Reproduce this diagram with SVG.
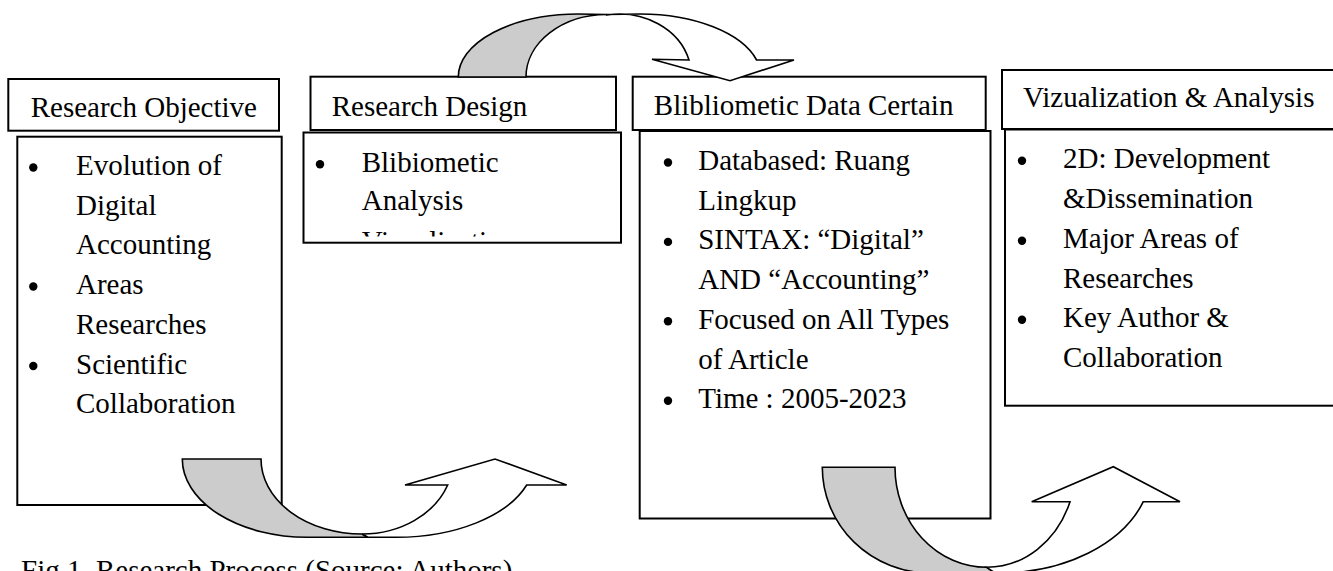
<svg xmlns="http://www.w3.org/2000/svg" width="1333" height="571" viewBox="0 0 1333 571">
  <style>
    .box { fill: #ffffff; stroke: #000000; stroke-width: 2; }
    .txt { font-family: "Liberation Serif", "Times New Roman", serif; font-size: 29px; fill: #000000; }
    .dot { fill: #000000; }
    .back { fill: #cccccc; stroke: #000000; stroke-width: 1.6; stroke-linejoin: miter; }
    .front { fill: #ffffff; stroke: #000000; stroke-width: 1.6; stroke-linejoin: miter; }
  </style>
  <defs>
    <!-- inner margin of the design text box: overflowing lines are cut here -->
    <clipPath id="designClip">
      <rect x="304.5" y="133.5" width="315.5" height="103"/>
    </clipPath>
  </defs>

  <rect width="1333" height="571" fill="#ffffff"/>

  <!-- Step 1: research objective -->
  <g id="objective">
    <rect class="box" x="8.3" y="79" width="270.7" height="51.7"/>
    <text class="txt" x="30.7" y="116.7">Research Objective</text>
    <rect class="box" x="17.3" y="136.7" width="264.4" height="368.3"/>
    <circle class="dot" cx="33.3" cy="167.5" r="4.2"/>
    <text class="txt" x="76" y="175">Evolution of</text>
    <text class="txt" x="76" y="214.7">Digital</text>
    <text class="txt" x="76" y="254.4">Accounting</text>
    <circle class="dot" cx="33.3" cy="286.5" r="4.2"/>
    <text class="txt" x="76" y="294">Areas</text>
    <text class="txt" x="76" y="333.8">Researches</text>
    <circle class="dot" cx="33.3" cy="366" r="4.2"/>
    <text class="txt" x="76" y="373.5">Scientific</text>
    <text class="txt" x="76" y="413.2">Collaboration</text>
  </g>

  <!-- Step 2: research design -->
  <g id="design">
    <rect class="box" x="310.5" y="76.7" width="305.5" height="53.3"/>
    <text class="txt" x="331.7" y="116">Research Design</text>
    <rect class="box" x="303.5" y="132.5" width="317.5" height="110.2"/>
    <circle class="dot" cx="320" cy="164.2" r="4.2"/>
    <text class="txt" x="361.7" y="171.7">Blibiometic</text>
    <text class="txt" x="361.7" y="210">Analysis</text>
    <text class="txt" x="361.7" y="250.5" clip-path="url(#designClip)">Vizualization</text>
  </g>

  <!-- Step 3: bibliometric data -->
  <g id="data">
    <rect class="box" x="632.7" y="76.7" width="353" height="53.3"/>
    <text class="txt" x="653.8" y="114.5">Blibliometic Data Certain</text>
    <rect class="box" x="639.7" y="131" width="350.8" height="387.5"/>
    <circle class="dot" cx="668" cy="162.5" r="4.2"/>
    <text class="txt" x="698.2" y="170">Databased: Ruang</text>
    <text class="txt" x="698.2" y="209.7">Lingkup</text>
    <circle class="dot" cx="668" cy="241.9" r="4.2"/>
    <text class="txt" x="698.2" y="249.4">SINTAX: “Digital”</text>
    <text class="txt" x="698.2" y="289">AND “Accounting”</text>
    <circle class="dot" cx="668" cy="321.3" r="4.2"/>
    <text class="txt" x="698.2" y="328.8">Focused on All Types</text>
    <text class="txt" x="698.2" y="368.5">of Article</text>
    <circle class="dot" cx="668" cy="400.7" r="4.2"/>
    <text class="txt" x="698.2" y="408.2">Time : 2005-2023</text>
  </g>

  <!-- Step 4: visualization and analysis -->
  <g id="visualization">
    <rect class="box" x="1002" y="70" width="345" height="59"/>
    <text class="txt" x="1023" y="106.7">Vizualization &amp; Analysis</text>
    <rect class="box" x="1005" y="129.5" width="345" height="276.2"/>
    <circle class="dot" cx="1022" cy="160.8" r="4.2"/>
    <text class="txt" x="1063" y="168">2D: Development</text>
    <text class="txt" x="1063" y="208">&amp;Dissemination</text>
    <circle class="dot" cx="1022" cy="240.8" r="4.2"/>
    <text class="txt" x="1063" y="248">Major Areas of</text>
    <text class="txt" x="1063" y="287.5">Researches</text>
    <circle class="dot" cx="1022" cy="319.8" r="4.2"/>
    <text class="txt" x="1063" y="327">Key Author &amp;</text>
    <text class="txt" x="1063" y="367">Collaboration</text>
  </g>

  <!-- Curved ribbon arrows between the steps -->
  <g id="connectors">
    <!-- design -> data (arching over the top) -->
    <path class="back" d="M458.3,77 A120,63 0 0 1 578,14 L606.7,14.5 A81,62.5 0 0 0 526,77 Z"/>
    <path class="front" d="M606.7,15 A72,62 0 0 1 689,60 L652,59.3 L730,80.7 L794,60 L756.6,60 A121,63 0 0 0 640,14 L606.7,14.5 Z"/>

    <!-- objective -> design (dipping below) -->
    <path class="back" d="M182.3,459 L261,459 A101,75 0 0 0 362,534 L368,537.3 L307,537.3 A125,78.3 0 0 1 182.3,459 Z"/>
    <path class="front" d="M362,534 A91,75 0 0 0 447.7,485 L405,485 L495,459 L566.7,485 L526.7,485 A138,78.3 0 0 1 396.7,537.3 L368,537.3 Z"/>

    <!-- data -> visualization (dipping below) -->
    <path class="back" d="M822.3,467.3 L895,467.3 A91.7,100 0 0 0 986.7,567.3 L995,573 L930,573 A108,105.7 0 0 1 822.3,467.3 Z"/>
    <path class="front" d="M986.7,567.3 A88.8,100.3 0 0 0 1070,501.7 L1031.7,501.7 L1113.3,466.7 L1180,501.7 L1143.3,501.7 A152,105.7 0 0 1 1000,573 L995,573 Z"/>
  </g>

  <text class="txt" x="21" y="580">Fig 1. Research Process (Source: Authors)</text>
</svg>
